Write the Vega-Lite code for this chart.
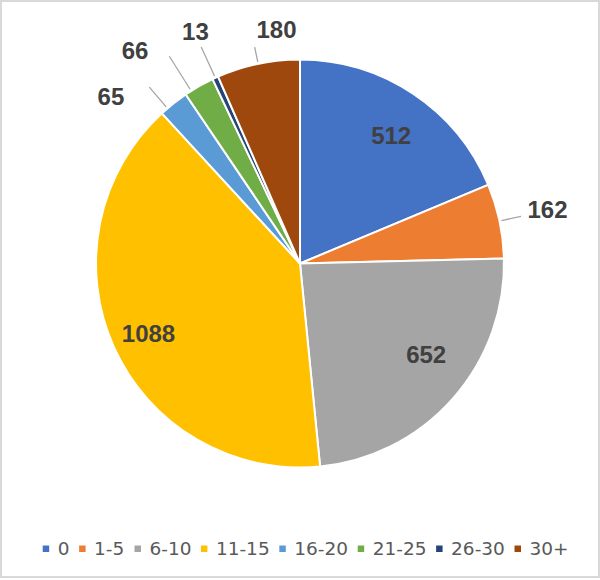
{
  "$schema": "https://vega.github.io/schema/vega-lite/v6.json",
  "width": 598,
  "height": 576,
  "autosize": {"type": "none"},
  "padding": {"left": 1, "top": 1, "right": 1, "bottom": 3},
  "background": "white",
  "data": {"values": [
    {"k": 0, "cat": "0", "count": 512},
    {"k": 1, "cat": "1-5", "count": 162},
    {"k": 2, "cat": "6-10", "count": 652},
    {"k": 3, "cat": "11-15", "count": 1088},
    {"k": 4, "cat": "16-20", "count": 65},
    {"k": 5, "cat": "21-25", "count": 66},
    {"k": 6, "cat": "26-30", "count": 13},
    {"k": 7, "cat": "30+", "count": 180}
  ]},
  "config": {
    "view": {"stroke": null},
    "legend": {
      "orient": "none",
      "legendX": 35.7,
      "legendY": 538.5,
      "direction": "horizontal",
      "gridAlign": "none",
      "symbolType": "square",
      "symbolSize": 42,
      "symbolStrokeWidth": 0,
      "labelFont": "DejaVu Sans",
      "labelFontSize": 18.5,
      "labelColor": "#595959",
      "labelOffset": 2.5,
      "columnPadding": 3.4,
      "padding": 0
    }
  },
  "layer": [
    {
      "mark": {"type": "rect", "fill": "transparent", "stroke": "#d9d9d9", "strokeWidth": 1.5},
      "encoding": {}
    },
    {
      "mark": {"type": "arc", "radius": 204, "stroke": "white", "strokeWidth": 2, "yOffset": -25.5},
      "encoding": {
        "theta": {"field": "count", "type": "quantitative", "stack": true},
        "order": {"field": "k", "type": "quantitative"},
        "color": {
          "field": "cat", "type": "nominal", "title": null,
          "scale": {
            "domain": ["0", "1-5", "6-10", "11-15", "16-20", "21-25", "26-30", "30+"],
            "range": ["#4472C4", "#ED7D31", "#A5A5A5", "#FFC000", "#5B9BD5", "#70AD47", "#264478", "#9E480E"]
          }
        }
      }
    },
    {
      "transform": [
        {"window": [{"op": "sum", "field": "count", "as": "cum"}], "sort": [{"field": "k"}]},
        {"calculate": "datum.cum - datum.count / 2", "as": "mid"},
        {"filter": "datum.cat === '1-5'"}
      ],
      "mark": {"type": "arc", "radius": 226, "radius2": 206, "filled": false, "stroke": "#a6a6a6", "strokeWidth": 1.3, "yOffset": -25.5},
      "encoding": {
        "theta": {"field": "mid", "type": "quantitative", "stack": null},
        "theta2": {"field": "mid"}
      }
    },
    {
      "transform": [
        {"window": [{"op": "sum", "field": "count", "as": "cum"}], "sort": [{"field": "k"}]},
        {"calculate": "datum.cum - datum.count / 2", "as": "mid"},
        {"filter": "datum.cat === '26-30'"}
      ],
      "mark": {"type": "arc", "radius": 238, "radius2": 206, "filled": false, "stroke": "#a6a6a6", "strokeWidth": 1.3, "yOffset": -25.5},
      "encoding": {
        "theta": {"field": "mid", "type": "quantitative", "stack": null},
        "theta2": {"field": "mid"}
      }
    },
    {
      "transform": [
        {"window": [{"op": "sum", "field": "count", "as": "cum"}], "sort": [{"field": "k"}]},
        {"calculate": "datum.cum - datum.count / 2", "as": "mid"},
        {"filter": "datum.cat === '30+'"}
      ],
      "mark": {"type": "arc", "radius": 221, "radius2": 206, "filled": false, "stroke": "#a6a6a6", "strokeWidth": 1.3, "yOffset": -25.5},
      "encoding": {
        "theta": {"field": "mid", "type": "quantitative", "stack": null},
        "theta2": {"field": "mid"}
      }
    },
    {
      "transform": [
        {"window": [{"op": "sum", "field": "count", "as": "cum"}], "sort": [{"field": "k"}]},
        {"calculate": "datum.cum - datum.count / 2", "as": "mid"},
        {"filter": "datum.cat === '21-25'"}
      ],
      "mark": {"type": "arc", "radius": 245, "radius2": 206, "filled": false, "stroke": "#a6a6a6", "strokeWidth": 1.3, "yOffset": -25.5, "thetaOffset": -0.044, "theta2Offset": -0.044},
      "encoding": {
        "theta": {"field": "mid", "type": "quantitative", "stack": null},
        "theta2": {"field": "mid"}
      }
    },
    {
      "transform": [
        {"window": [{"op": "sum", "field": "count", "as": "cum"}], "sort": [{"field": "k"}]},
        {"calculate": "datum.cum - datum.count / 2", "as": "mid"},
        {"filter": "datum.cat === '16-20'"}
      ],
      "mark": {"type": "arc", "radius": 232, "radius2": 206, "filled": false, "stroke": "#a6a6a6", "strokeWidth": 1.3, "yOffset": -25.5, "thetaOffset": -0.038, "theta2Offset": -0.038},
      "encoding": {
        "theta": {"field": "mid", "type": "quantitative", "stack": null},
        "theta2": {"field": "mid"}
      }
    },
    {
      "mark": {"type": "text", "radius": 158, "yOffset": -25.5, "dx": 3.6, "dy": 5, "font": "Liberation Sans", "fontWeight": "bold", "fontSize": 24, "fill": "#404040", "align": "center", "baseline": "middle"},
      "encoding": {
        "theta": {"field": "count", "type": "quantitative", "stack": true},
        "order": {"field": "k", "type": "quantitative"},
        "detail": {"field": "cat", "type": "nominal"},
        "text": {"condition": {"test": "datum.cat === '0'", "field": "count", "type": "quantitative"}, "value": ""}
      }
    },
    {
      "mark": {"type": "text", "radius": 158, "yOffset": -25.5, "dx": 7.8, "dy": -12.2, "font": "Liberation Sans", "fontWeight": "bold", "fontSize": 24, "fill": "#404040", "align": "center", "baseline": "middle"},
      "encoding": {
        "theta": {"field": "count", "type": "quantitative", "stack": true},
        "order": {"field": "k", "type": "quantitative"},
        "detail": {"field": "cat", "type": "nominal"},
        "text": {"condition": {"test": "datum.cat === '6-10'", "field": "count", "type": "quantitative"}, "value": ""}
      }
    },
    {
      "mark": {"type": "text", "radius": 158, "yOffset": -25.5, "dx": -7.3, "dy": 6.9, "font": "Liberation Sans", "fontWeight": "bold", "fontSize": 24, "fill": "#404040", "align": "center", "baseline": "middle"},
      "encoding": {
        "theta": {"field": "count", "type": "quantitative", "stack": true},
        "order": {"field": "k", "type": "quantitative"},
        "detail": {"field": "cat", "type": "nominal"},
        "text": {"condition": {"test": "datum.cat === '11-15'", "field": "count", "type": "quantitative"}, "value": ""}
      }
    },
    {
      "mark": {"type": "text", "radius": 252, "yOffset": -25.5, "dx": 1, "dy": 0, "font": "Liberation Sans", "fontWeight": "bold", "fontSize": 24, "fill": "#404040", "align": "center", "baseline": "middle"},
      "encoding": {
        "theta": {"field": "count", "type": "quantitative", "stack": true},
        "order": {"field": "k", "type": "quantitative"},
        "detail": {"field": "cat", "type": "nominal"},
        "text": {"condition": {"test": "datum.cat === '1-5'", "field": "count", "type": "quantitative"}, "value": ""}
      }
    },
    {
      "mark": {"type": "text", "radius": 252, "yOffset": -25.5, "dx": -32.8, "dy": 32.2, "font": "Liberation Sans", "fontWeight": "bold", "fontSize": 24, "fill": "#404040", "align": "center", "baseline": "middle"},
      "encoding": {
        "theta": {"field": "count", "type": "quantitative", "stack": true},
        "order": {"field": "k", "type": "quantitative"},
        "detail": {"field": "cat", "type": "nominal"},
        "text": {"condition": {"test": "datum.cat === '16-20'", "field": "count", "type": "quantitative"}, "value": ""}
      }
    },
    {
      "mark": {"type": "text", "radius": 252, "yOffset": -25.5, "dx": -40.1, "dy": 7.3, "font": "Liberation Sans", "fontWeight": "bold", "fontSize": 24, "fill": "#404040", "align": "center", "baseline": "middle"},
      "encoding": {
        "theta": {"field": "count", "type": "quantitative", "stack": true},
        "order": {"field": "k", "type": "quantitative"},
        "detail": {"field": "cat", "type": "nominal"},
        "text": {"condition": {"test": "datum.cat === '21-25'", "field": "count", "type": "quantitative"}, "value": ""}
      }
    },
    {
      "mark": {"type": "text", "radius": 252, "yOffset": -25.5, "dx": 0, "dy": -1, "font": "Liberation Sans", "fontWeight": "bold", "fontSize": 24, "fill": "#404040", "align": "center", "baseline": "middle"},
      "encoding": {
        "theta": {"field": "count", "type": "quantitative", "stack": true},
        "order": {"field": "k", "type": "quantitative"},
        "detail": {"field": "cat", "type": "nominal"},
        "text": {"condition": {"test": "datum.cat === '26-30'", "field": "count", "type": "quantitative"}, "value": ""}
      }
    },
    {
      "mark": {"type": "text", "radius": 252, "yOffset": -25.5, "dx": 28.2, "dy": 13.7, "font": "Liberation Sans", "fontWeight": "bold", "fontSize": 24, "fill": "#404040", "align": "center", "baseline": "middle"},
      "encoding": {
        "theta": {"field": "count", "type": "quantitative", "stack": true},
        "order": {"field": "k", "type": "quantitative"},
        "detail": {"field": "cat", "type": "nominal"},
        "text": {"condition": {"test": "datum.cat === '30+'", "field": "count", "type": "quantitative"}, "value": ""}
      }
    }
  ]
}
